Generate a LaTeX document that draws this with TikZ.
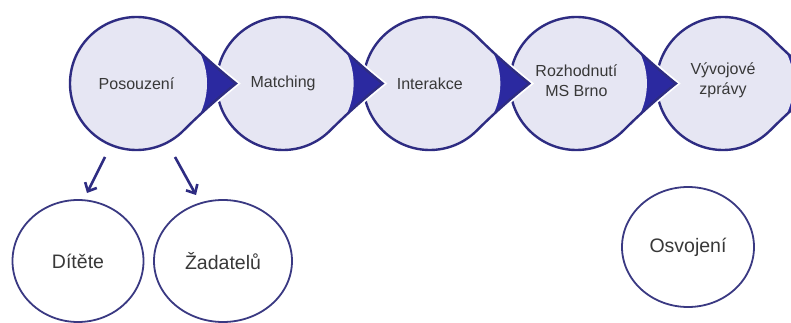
\documentclass[tikz,border=0pt]{standalone}
\usepackage{fontspec}
\setmainfont{Liberation Sans}
\usetikzlibrary{shapes.geometric,arrows.meta}
\definecolor{dblue}{HTML}{2E2C82}
\definecolor{wedgeblue}{HTML}{2B29A0}
\definecolor{lav}{HTML}{E6E6F3}
\definecolor{txt}{HTML}{383838}
\tikzset{
  toptext/.style={circle, minimum size=133pt, inner sep=0pt, align=center, text=txt,
    font=\fontsize{16}{20.5}\selectfont},
  botc/.style={ellipse, inner sep=0pt, fill=white, draw=dblue!85!gray,
    line width=1.8pt, text=txt, font=\fontsize{19.5}{22}\selectfont},
  downarrow/.style={draw=dblue, line width=2.6pt, -{Straight Barb[length=7pt,width=13pt]}},
}
% teardrop outline, point at 45 degrees (rotated later)
\newcommand{\tdpath}{(0,66.5) .. controls (23.45,66.5) and (46.91,67.79) .. (70.36,70.36)
  .. controls (67.79,46.91) and (66.5,23.45) .. (66.5,0)
  arc[start angle=0,end angle=-270,radius=66.5] -- cycle}
\newcommand{\stepshape}[4]{%
  \begin{scope}[shift={(#1,-83.5)}]
    \begin{scope}[shift={(0.5,-2.5)},rotate=-45]
      \fill[gray!20] \tdpath;
    \end{scope}
    \begin{scope}[rotate=-45]
      \filldraw[fill=white, draw=white, line width=6pt] \tdpath;
      \fill[wedgeblue] \tdpath;
      \begin{scope}
        \clip \tdpath;
        \fill[lav] (0,0) circle (70.5);
      \end{scope}
      \draw[dblue, line width=2.4pt] \tdpath;
    \end{scope}
  \end{scope}
  \node[toptext, yshift=#4] (#2) at (#1,-83.5) {#3};
}
\begin{document}
\begin{tikzpicture}[x=1pt,y=1pt]
\useasboundingbox (0,0) rectangle (791,-323);
\fill[white] (0,0) rectangle (791,-323);
\stepshape{723}{vz}{Vývojové\\zprávy}{3pt}
\stepshape{576.4}{rb}{Rozhodnutí\\MS Brno}{3pt}
\stepshape{429.8}{in}{Interakce}{0pt}
\stepshape{283.1}{ma}{Matching}{0pt}
\stepshape{136.5}{po}{Posouzení}{0pt}
\node[botc, minimum width=131pt, minimum height=122pt] (di) at (78,-261) {Dítěte};
\node[botc, minimum width=138pt, minimum height=122pt] (za) at (223,-261) {Žadatelů};
\node[botc, minimum width=132pt, minimum height=120pt] (os) at (688,-247) {Osvojení};
\coordinate (a1s) at (105,-157);
\coordinate (a1e) at (87,-193);
\coordinate (a2s) at (175,-157);
\coordinate (a2e) at (196,-195);
\draw[downarrow] (a1s) -- (a1e);
\draw[downarrow] (a2s) -- (a2e);
\end{tikzpicture}
\end{document}
